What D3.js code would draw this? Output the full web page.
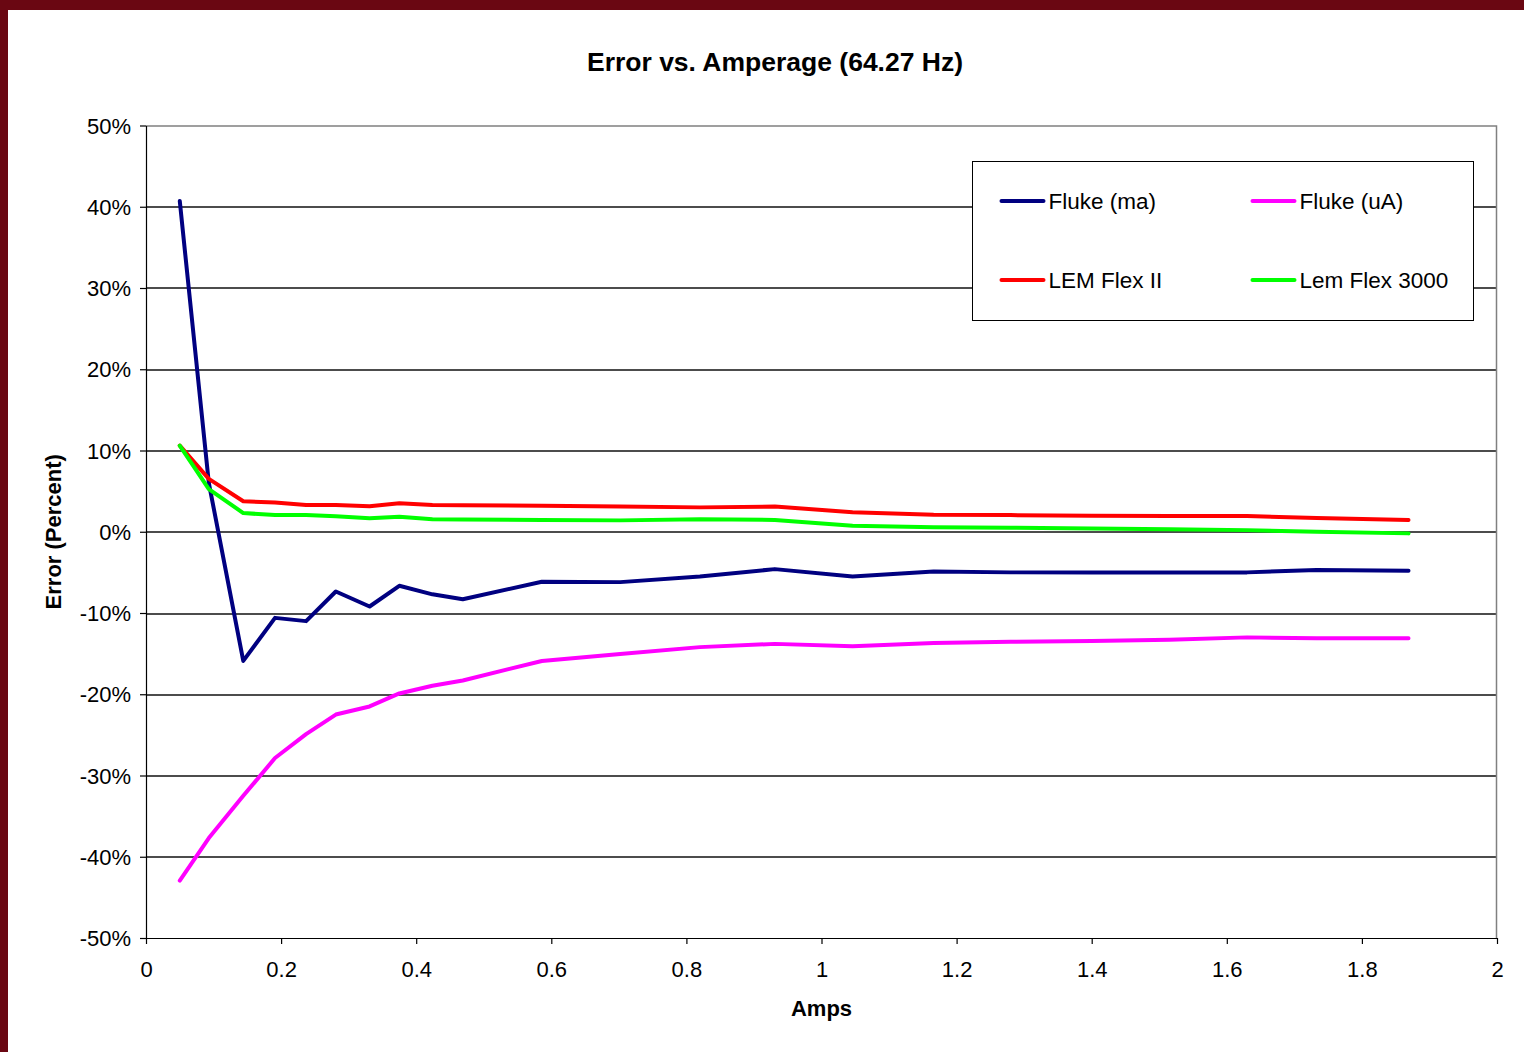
<!DOCTYPE html>
<html>
<head>
<meta charset="utf-8">
<script src="https://cdn.jsdelivr.net/npm/d3@7"></script>
<style>
  html, body { margin: 0; padding: 0; background: #6a0712; }
  svg { display: block; font-family: "Liberation Sans", Arial, sans-serif; }
</style>
</head>
<body>
<svg></svg>
<script>
// values (error in percent)
var amps = [0.05, 0.093, 0.144, 0.191, 0.237, 0.281, 0.331, 0.375, 0.424, 0.469, 0.586,
            0.702, 0.82, 0.931, 1.046, 1.166, 1.28, 1.4, 1.515, 1.63, 1.733, 1.869];
var flukeMa = [40.7, 6.0, -15.9, -10.6, -11.0, -7.35, -9.2, -6.65, -7.7, -8.3, -6.15,
               -6.2, -5.5, -4.6, -5.5, -4.9, -5.0, -5.0, -5.0, -5.0, -4.7, -4.8];
var flukeUa = [-42.95, -37.7, -32.5, -27.85, -24.9, -22.5, -21.5, -19.9, -18.95, -18.3, -15.9,
               -15.05, -14.2, -13.8, -14.1, -13.7, -13.55, -13.45, -13.3, -13.0, -13.1, -13.1];
var lemFlexII = [10.6, 6.5, 3.75, 3.6, 3.3, 3.3, 3.15, 3.5, 3.3, 3.25, 3.2,
                 3.1, 3.0, 3.1, 2.4, 2.1, 2.05, 1.98, 1.95, 1.93, 1.7, 1.45];
var lemFlex3000 = [10.6, 5.25, 2.3, 2.05, 2.05, 1.9, 1.65, 1.85, 1.55, 1.5, 1.45,
                   1.4, 1.55, 1.45, 0.75, 0.55, 0.5, 0.4, 0.3, 0.2, 0.0, -0.2];

var seriesNames = ["Fluke (ma)", "Fluke (uA)", "LEM Flex II", "Lem Flex 3000"];
var seriesColors = ["#000080", "#ff00ff", "#ff0000", "#00ff00"];
var xTicks = [0, 0.2, 0.4, 0.6, 0.8, 1, 1.2, 1.4, 1.6, 1.8, 2];
var yTicks = [-50, -40, -30, -20, -10, 0, 10, 20, 30, 40, 50];

var series = [flukeMa, flukeUa, lemFlexII, lemFlex3000].map(function(vals, i) {
  return {
    name: seriesNames[i],
    color: seriesColors[i],
    values: vals.map(function(v, j) { return { x: amps[j], y: v }; })
  };
});

drawChart(series);

function drawChart(series) {
  var svgWidth = 1524, svgHeight = 1052;
  var margin = { top: 125.5, right: 27, bottom: 114, left: 146 };
  var width = svgWidth - margin.left - margin.right;
  var height = svgHeight - margin.top - margin.bottom;

  var svg = d3.select("svg")
    .attr("width", svgWidth)
    .attr("height", svgHeight);

  // white chart area inside the maroon frame
  svg.append("rect")
    .attr("x", 8).attr("y", 10)
    .attr("width", svgWidth - 8).attr("height", svgHeight - 10)
    .attr("fill", "#fff");

  var g = svg.append("g")
    .attr("transform", "translate(" + margin.left + "," + margin.top + ")");

  var x = d3.scaleLinear().domain([0, 2]).range([0, width]);
  var y = d3.scaleLinear().domain([-50, 50]).range([height, 0]);

  // gridlines
  g.append("g")
    .selectAll("line")
    .data(yTicks.slice(1, -1))
    .enter().append("line")
    .attr("x1", 0).attr("x2", width)
    .attr("y1", function(d) { return Math.round(y(d)) + 0.5; })
    .attr("y2", function(d) { return Math.round(y(d)) + 0.5; })
    .attr("stroke", "#111")
    .attr("stroke-width", 1.3);

  // plot border top / right
  g.append("path")
    .attr("d", "M0," + (y(50) + 0.5) + "H" + (width - 0.5) + "V" + height)
    .attr("fill", "none")
    .attr("stroke", "#808080")
    .attr("stroke-width", 1.5);

  var xAxis = g.append("g")
    .attr("transform", "translate(0," + height + ")")
    .call(d3.axisBottom(x).tickValues(xTicks).tickSize(6).tickSizeOuter(0)
      .tickFormat(function(d) { return String(d); }));

  var yAxis = g.append("g")
    .call(d3.axisLeft(y).tickValues(yTicks).tickSize(6).tickSizeOuter(0)
      .tickFormat(function(d) { return d + "%"; }));

  [xAxis, yAxis].forEach(function(ax) {
    ax.selectAll("path, line").attr("stroke", "#000").attr("stroke-width", 1.2);
    ax.selectAll("text")
      .attr("fill", "#000")
      .style("font-size", "22px")
      .style("font-family", "'Liberation Sans', Arial, sans-serif");
  });
  xAxis.selectAll("text").attr("y", 23);
  yAxis.selectAll("text").attr("x", -15).attr("dy", "0.35em");

  var line = d3.line()
    .x(function(d) { return x(d.x); })
    .y(function(d) { return y(d.y); });

  // draw in Excel order: later series on top
  g.selectAll(".series")
    .data(series)
    .enter().append("path")
    .attr("class", "series")
    .attr("fill", "none")
    .attr("stroke", function(d) { return d.color; })
    .attr("stroke-width", 4)
    .attr("stroke-linejoin", "round")
    .attr("stroke-linecap", "round")
    .attr("d", function(d) { return line(d.values); });

  // title
  svg.append("text")
    .attr("x", 775).attr("y", 71)
    .attr("text-anchor", "middle")
    .style("font-size", "26.5px")
    .style("font-weight", "bold")
    .text("Error vs. Amperage (64.27 Hz)");

  // axis titles
  svg.append("text")
    .attr("x", margin.left + x(1)).attr("y", 1016)
    .attr("text-anchor", "middle")
    .style("font-size", "22px")
    .style("font-weight", "bold")
    .text("Amps");

  svg.append("text")
    .attr("transform", "translate(61," + (margin.top + y(0)) + ")rotate(-90)")
    .attr("text-anchor", "middle")
    .style("font-size", "22px")
    .style("font-weight", "bold")
    .text("Error (Percent)");

  // legend
  var legend = svg.append("g").attr("transform", "translate(972.5,161.5)");
  legend.append("rect")
    .attr("width", 501).attr("height", 159)
    .attr("fill", "#fff")
    .attr("stroke", "#000")
    .attr("stroke-width", 1);

  var item = legend.selectAll(".item")
    .data(series)
    .enter().append("g")
    .attr("class", "item")
    .attr("transform", function(d, i) {
      return "translate(" + (i % 2 === 0 ? 29 : 280) + "," + (i < 2 ? 39.5 : 118.5) + ")";
    });

  item.append("line")
    .attr("x1", 0).attr("x2", 42)
    .attr("stroke", function(d) { return d.color; })
    .attr("stroke-width", 4)
    .attr("stroke-linecap", "round");

  item.append("text")
    .attr("x", 47)
    .attr("dy", "0.35em")
    .style("font-size", "22.5px")
    .text(function(d) { return d.name; });
}
</script>
</body>
</html>
